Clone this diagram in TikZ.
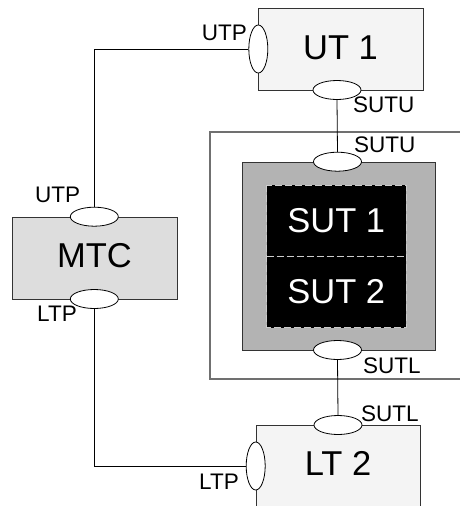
\documentclass[tikz,border=0pt]{standalone}
\usepackage{fontspec}
\setmainfont{Liberation Sans}
\usetikzlibrary{shapes.geometric}
\definecolor{boxlight}{HTML}{F4F4F4}
\definecolor{boxmtc}{HTML}{DDDDDD}
\definecolor{boxsut}{HTML}{B3B3B3}
\definecolor{edge}{HTML}{333333}
\definecolor{frameline}{HTML}{707070}
\begin{document}
\begin{tikzpicture}[x=1pt,y=-1pt,
  unitbox/.style={draw=edge,line width=0.9pt,inner sep=0pt,anchor=north west},
  port/.style={ellipse,draw=black,fill=white,line width=0.8pt,inner sep=0pt,
    minimum width=48pt,minimum height=19pt},
  vport/.style={port,minimum width=19pt,minimum height=48pt},
  plabel/.style={font=\fontsize{22.5}{22.5}\selectfont,inner sep=0pt},
  biglabel/.style={font=\fontsize{34.5}{34.5}\selectfont,inner sep=0pt},
  wire/.style={draw=black,line width=0.8pt},
  sutpart/.style={draw=white!80!black,line width=1pt,dash pattern=on 7pt off 3pt}]

% canvas
\clip (0,0) rectangle (460,506);
\fill[white] (0,0) rectangle (460,506);

% outer frame around the system under test (open to the right)
\draw[frameline,line width=1.2pt] (490,132) -- (210,132) -- (210,379) -- (490,379);

% UT 1
\node[unitbox,fill=boxlight,minimum width=164.7pt,minimum height=81.7pt]
  (ut1) at (258.3,8.3) {};
\node[biglabel] (ut1text) at (340.5,47.5) {UT 1};

% MTC
\node[unitbox,fill=boxmtc,minimum width=164.4pt,minimum height=82.3pt]
  (mtc) at (12.3,216.7) {};
\node[biglabel] (mtctext) at (94.5,255.5) {MTC};

% LT 2 (runs off the bottom edge)
\node[unitbox,fill=boxlight,minimum width=164.3pt,minimum height=100pt]
  (lt2) at (255.7,425) {};
\node[biglabel] (lt2text) at (338,463.5) {LT 2};

% SUT block
\node[unitbox,fill=boxsut,minimum width=193.3pt,minimum height=188.3pt]
  (sut) at (241.7,161.7) {};
\node[inner sep=0pt,anchor=north west,fill=black,minimum width=139.3pt,minimum height=142.5pt]
  (sutcore) at (266.7,185) {};
\draw[sutpart] (sutcore.north west) rectangle (sutcore.south east);
\coordinate (divl) at (266.7,256);
\coordinate (divr) at (406,256);
\draw[sutpart] (divl) -- (divr);
\node[biglabel,text=white] (sut1) at (336.3,220.5) {SUT 1};
\node[biglabel,text=white] (sut2) at (336.3,291.5) {SUT 2};

% ports
\node[vport] (ut1utp) at (258.3,49) {};
\node[port] (ut1sutu) at (337,90) {};
\node[port] (sutsutu) at (337.5,161.7) {};
\node[port] (sutsutl) at (337.5,350) {};
\node[port] (lt2sutl) at (338,425) {};
\node[vport] (lt2ltp) at (255.7,466) {};
\node[port] (mtcutp) at (94.3,216.7) {};
\node[port] (mtcltp) at (94.3,299) {};

% connectors
\draw[wire] (ut1utp.west) -| (mtcutp.north);
\draw[wire] (mtcltp.south) |- (lt2ltp.west);
\draw[wire] (ut1sutu.south) -- (sutsutu.north);
\draw[wire] (sutsutl.south) -- (lt2sutl.north);

% port labels
\node[plabel,anchor=base east] (l1) at (247,40.7) {UTP};
\node[plabel,anchor=base west] (l2) at (353,112.7) {SUTU};
\node[plabel,anchor=base west] (l3) at (354,152) {SUTU};
\node[plabel,anchor=base west] (l4) at (363,373) {SUTL};
\node[plabel,anchor=base west] (l5) at (361,421.7) {SUTL};
\node[plabel,anchor=base west] (l6) at (35,202.7) {UTP};
\node[plabel,anchor=base west] (l7) at (37,321.7) {LTP};
\node[plabel,anchor=base east] (l8) at (239,489) {LTP};
\end{tikzpicture}
\end{document}
